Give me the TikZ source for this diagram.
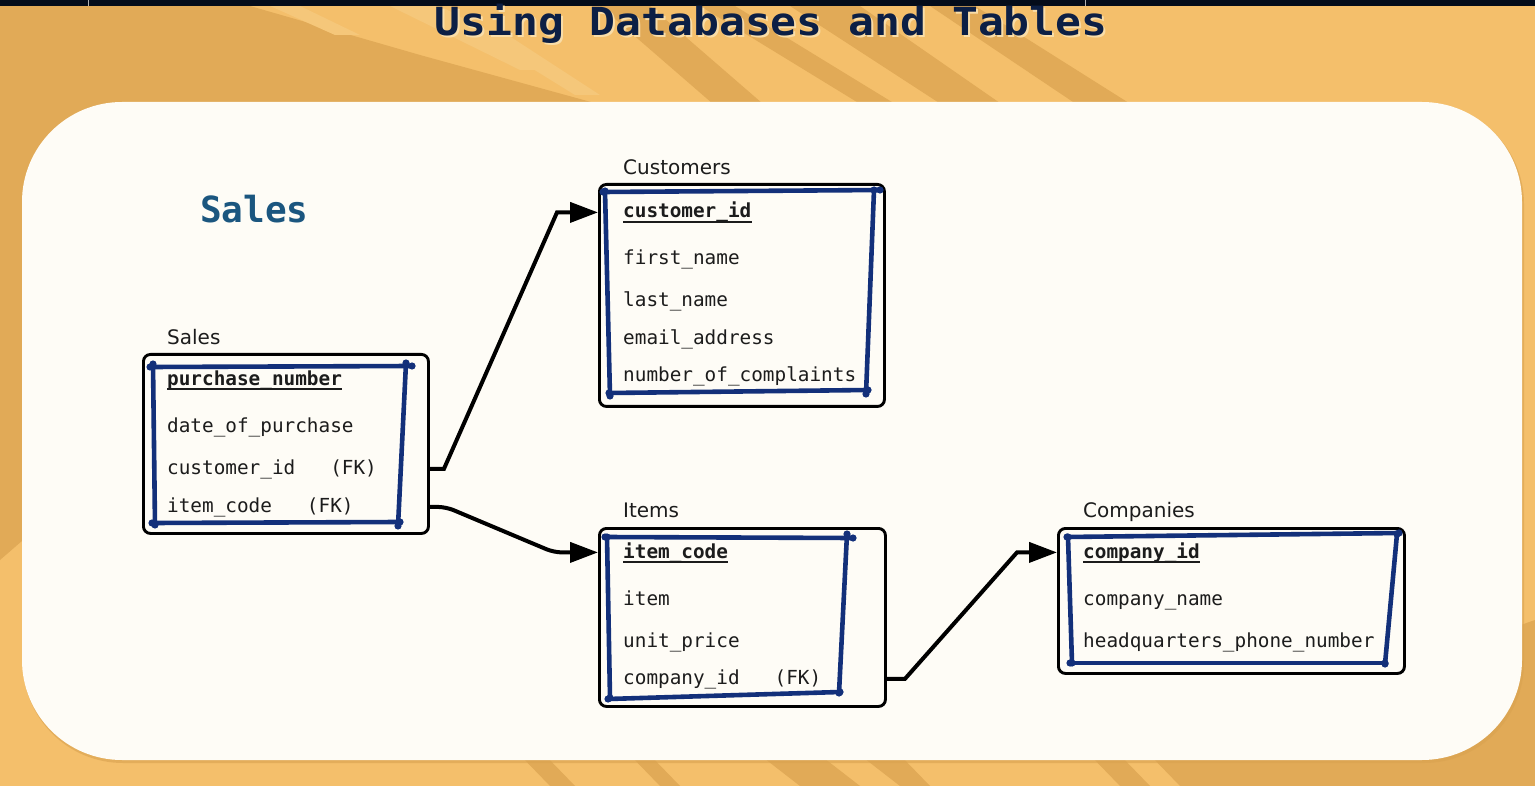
\documentclass[tikz,border=0pt]{standalone}
\usepackage{fontspec}
\usepackage{graphicx}
\usetikzlibrary{arrows.meta,calc}
\newfontfamily\monof{DejaVu Sans Mono}
\newfontfamily\labf{DejaVu Sans}

\definecolor{bgorange}{HTML}{F4BF6B}
\definecolor{darkorange}{HTML}{E1AA57}
\definecolor{paleorange}{HTML}{F5C77A}
\definecolor{panel}{HTML}{FEFCF6}
\definecolor{panelshadow}{HTML}{D9A250}
\definecolor{topbar}{HTML}{040C1A}
\definecolor{titlenavy}{HTML}{0C1F45}
\definecolor{titleshadow}{HTML}{F9DDA8}
\definecolor{salesblue}{HTML}{1B567F}
\definecolor{rowtext}{HTML}{1C1C1C}
\definecolor{inkblue}{HTML}{13307A}

% hand-drawn blue stroke with a dot at each end
\newcommand\inkline[2]{%
  \draw[ink] #1 -- #2;
  \fill[inkblue] #1 circle[radius=3.6pt] #2 circle[radius=3.6pt];}

\begin{document}
\begin{tikzpicture}[x=1pt,y=-1pt,
  tbl/.style={draw=black, line width=2.9pt, rounded corners=7pt, fill=panel,
    anchor=north west, inner sep=0pt},
  tname/.style={anchor=base west, inner sep=0pt, text=rowtext,
    font=\labf\fontsize{20}{24}\selectfont},
  field/.style={anchor=base west, inner sep=0pt, text=rowtext,
    font=\monof\fontsize{19.35}{23}\selectfont},
  pkey/.style={field, font=\monof\bfseries\fontsize{19.35}{23}\selectfont},
  ink/.style={draw=inkblue, line width=4.6pt, line cap=round},
  link/.style={draw=black, line width=4pt,
    -{Triangle[length=28pt,width=20pt]}},
  pkline/.style={draw=rowtext, line width=1.8pt},
]
\useasboundingbox (0,0) rectangle (1535,786);

% ---- background ----
\fill[bgorange] (0,0) rectangle (1535,786);
\fill[darkorange] (0,6) -- (250,6) -- (420,55) -- (620,110) -- (300,300)
  -- (0,560) -- cycle;
\fill[darkorange] (600,6) -- (650,6) -- (770,110) -- (720,110) -- cycle;
\fill[darkorange] (700,6) -- (735,6) -- (905,110) -- (870,110) -- cycle;
\fill[darkorange] (790,6) -- (860,6) -- (1010,110) -- (950,110) -- cycle;
\fill[darkorange] (930,6) -- (975,6) -- (1140,110) -- (1085,110) -- cycle;
\fill[paleorange] (270,6) -- (300,6) -- (360,35) -- (335,35) -- cycle;
\fill[paleorange] (390,6) -- (440,6) -- (560,70) -- (520,70) -- cycle;
\fill[paleorange] (470,30) -- (500,30) -- (600,95) -- (575,95) -- cycle;
% strokes along the lower edge
\fill[darkorange] (520,755) -- (545,755) -- (575,786) -- (550,786) -- cycle;
\fill[darkorange] (630,755) -- (650,755) -- (680,786) -- (660,786) -- cycle;
\fill[darkorange] (760,755) -- (820,755) -- (860,786) -- (800,786) -- cycle;
\fill[darkorange] (860,755) -- (900,755) -- (930,786) -- (900,786) -- cycle;
\fill[darkorange] (1090,755) -- (1120,755) -- (1150,786) -- (1120,786) -- cycle;
\fill[darkorange] (1150,755) -- (1535,620) -- (1535,786) -- (1180,786) -- cycle;

% top bar
\fill[topbar] (0,0) rectangle (1535,6);
\draw[gray!60, line width=0.8pt] (88,0) -- (88,6) (1085,0) -- (1085,6);

% ---- title ----
\node[anchor=base, inner sep=0pt, text=titleshadow,
  font=\monof\bfseries\fontsize{43}{50}\selectfont] (titleshade) at (773,38)
  {\scalebox{1}[0.9]{Using Databases and Tables}};
\node[anchor=base, inner sep=0pt, text=titlenavy,
  font=\monof\bfseries\fontsize{43}{50}\selectfont] (title) at (771,36)
  {\scalebox{1}[0.9]{Using Databases and Tables}};

% ---- white panel ----
\fill[panelshadow, opacity=0.6, rounded corners=100pt] (23,104) rectangle (1524,763);
\fill[panel, rounded corners=100pt] (22,102) rectangle (1522,760);

\node[anchor=base west, inner sep=0pt, text=salesblue,
  font=\monof\bfseries\fontsize{36}{40}\selectfont] (heading) at (200,223) {Sales};

% ---- Sales table ----
\node[tbl, minimum width=285pt, minimum height=179pt] (sales) at (142,353) {};
\node[tname] (salesname) at (167,345) {Sales};
\node[pkey] (spn) at (167,385) {purchase\_number};
\node[field] (sdate) at (167,432) {date\_of\_purchase};
\node[field] (scust) at (167,474) {customer\_id~~~(FK)};
\node[field] (sitem) at (167,512) {item\_code~~~(FK)};
\inkline{(150,367)}{(412,366)}
\inkline{(153,364)}{(155,525)}
\inkline{(406,363)}{(398,526)}
\inkline{(152,523)}{(400,522)}

% ---- Customers table ----
\node[tbl, minimum width=285pt, minimum height=222pt] (cust) at (598,183) {};
\node[tname] (custname) at (623,175) {Customers};
\node[pkey] (cid) at (623,218) {customer\_id};
\node[field] (cfirst) at (623,265) {first\_name};
\node[field] (clast) at (623,307) {last\_name};
\node[field] (cmail) at (623,345) {email\_address};
\node[field] (ccompl) at (623,382) {number\_of\_complaints};
\inkline{(603,192)}{(880,190)}
\inkline{(605,191)}{(610,396)}
\inkline{(874,190)}{(866,394)}
\inkline{(609,393)}{(868,390)}

% ---- Items table ----
\node[tbl, minimum width=286pt, minimum height=178pt] (items) at (598,527) {};
\node[tname] (itemsname) at (623,517) {Items};
\node[pkey] (icode) at (623,558) {item\_code};
\node[field] (iitem) at (623,605) {item};
\node[field] (iprice) at (623,647) {unit\_price};
\node[field] (icomp) at (623,684) {company\_id~~~(FK)};
\inkline{(605,537)}{(853,538)}
\inkline{(607,537)}{(610,698)}
\inkline{(847,534)}{(839,693)}
\inkline{(608,699)}{(840,692)}

% ---- Companies table ----
\node[tbl, minimum width=346pt, minimum height=145pt] (comp) at (1057,527) {};
\node[tname] (compname) at (1083,517) {Companies};
\node[pkey] (ccid) at (1083,558) {company\_id};
\node[field] (cname) at (1083,605) {company\_name};
\node[field] (cphone) at (1083,647) {headquarters\_phone\_number};
\inkline{(1067,537)}{(1399,533)}
\inkline{(1068,537)}{(1072,663)}
\inkline{(1397,534)}{(1385,664)}
\inkline{(1070,663)}{(1385,663)}

% primary key underlines
\foreach \k in {spn,cid,icode,ccid}
  \draw[pkline] ($(\k.base west)+(0,4)$) -- ($(\k.base east)+(0,4)$);

% ---- relationships ----
\draw[link] (sales.east |- scust) -- ++(14,0)
  -- ($(cust.west |- cid)+(-41,0)$) -- (cust.west |- cid);
\draw[link, rounded corners=8pt] (sales.east |- sitem) -- ++(16,0)
  -- ($(items.west |- icode)+(-44,0)$) -- (items.west |- icode);
\draw[link] (items.east |- icomp) -- ++(18,0)
  -- ($(comp.west |- ccid)+(-40,0)$) -- (comp.west |- ccid);
\end{tikzpicture}
\end{document}
